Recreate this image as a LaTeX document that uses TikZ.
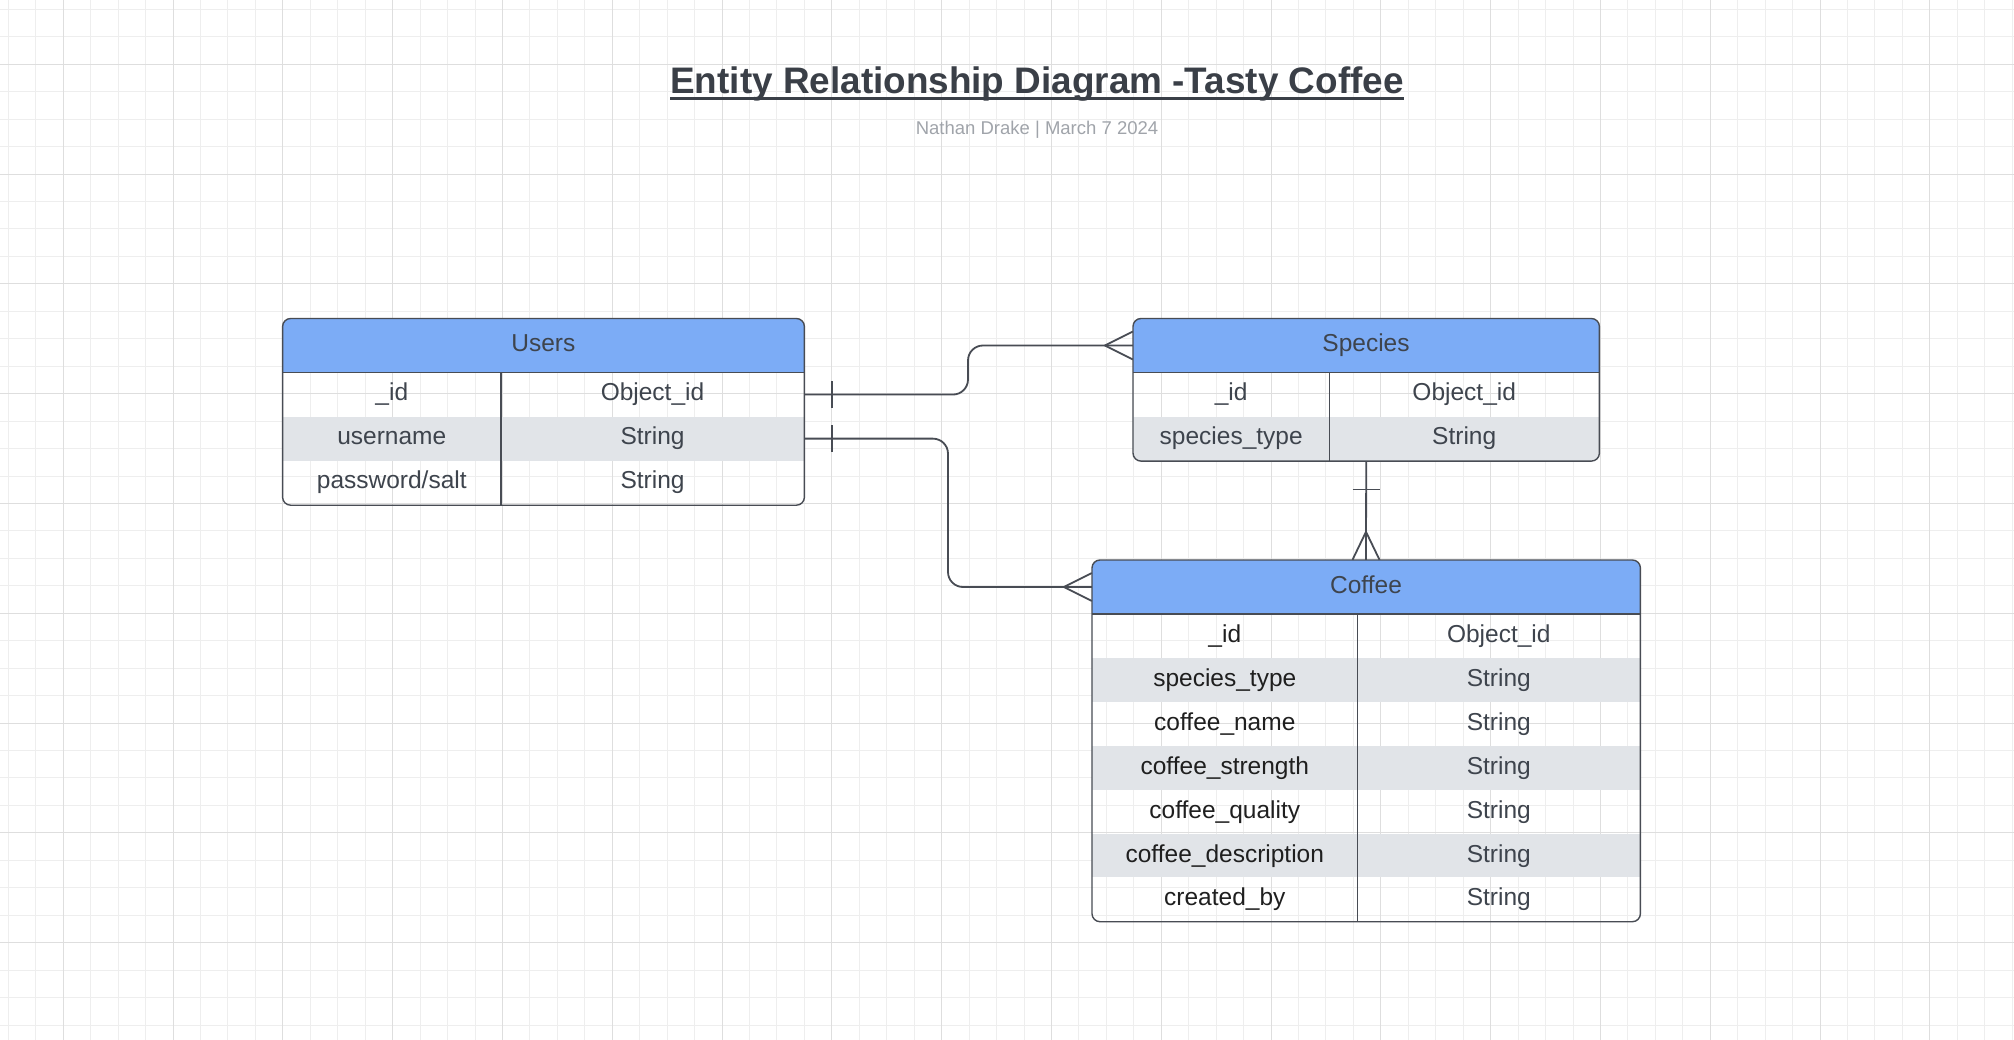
\documentclass[tikz,border=0pt]{standalone}
\usepackage{fontspec}
\setmainfont{Liberation Sans}
\definecolor{hdrblue}{RGB}{124,172,246}
\definecolor{rowgray}{RGB}{225,228,232}
\definecolor{bordercol}{RGB}{72,76,84}
\definecolor{txtcol}{RGB}{62,68,77}
\definecolor{titlecol}{RGB}{58,63,71}
\definecolor{subcol}{RGB}{160,164,170}
\definecolor{minorg}{RGB}{238,238,238}
\definecolor{majorg}{RGB}{222,222,222}
\begin{document}
\begin{tikzpicture}[x=1pt,y=-1pt,
  minorgrid/.style={draw=minorg,line width=1pt},
  majorgrid/.style={draw=majorg,line width=1pt},
  tblline/.style={draw=bordercol,line width=1.4pt},
  conn/.style={draw=bordercol,line width=1.8pt},
  cellbase/.style={inner sep=0pt,text height=18pt,text depth=6pt,font=\fontsize{24.5}{29}\selectfont,align=center},
  cell/.style={cellbase,text=txtcol,minimum height=44pt},
  darkcell/.style={cellbase,text=black!88,minimum height=44pt},
  hcell/.style={cellbase,text=txtcol,minimum height=54pt},
  boxnode/.style={inner sep=0pt,anchor=north west}
]
\useasboundingbox (0,0) rectangle (2014,1040);
\fill[white] (0,0) rectangle (2014,1040);
% grid (snapped to pixel centres)
\foreach \i in {0,...,73} {\pgfmathsetmacro\gx{floor(8.4+27.45*\i)+0.5}\draw[minorgrid] (\gx,0) -- ++(0,1040);}
\foreach \i in {0,...,37} {\pgfmathsetmacro\gy{floor(9.4+27.45*\i)+0.5}\draw[minorgrid] (0,\gy) -- ++(2014,0);}
\foreach \i in {0,...,17} {\pgfmathsetmacro\gx{floor(63.3+109.8*\i)+0.5}\draw[majorgrid] (\gx,0) -- ++(0,1040);}
\foreach \i in {0,...,8} {\pgfmathsetmacro\gy{floor(64.3+109.8*\i)+0.5}\draw[majorgrid] (0,\gy) -- ++(2014,0);}

% title
\node[inner sep=0pt,text=titlecol,font=\bfseries\fontsize{36.9}{42}\selectfont,anchor=base] (title) at (1037,93.5) {Entity Relationship Diagram -Tasty Coffee};
\draw[draw=titlecol,line width=2.6pt] ([yshift=-4.8pt]title.base west) -- ([yshift=-4.8pt]title.base east);
\node[inner sep=0pt,text=subcol,font=\fontsize{18.5}{22}\selectfont,anchor=base] (subtitle) at (1037,135) {Nathan Drake | March 7 2024};

% ---------------- Users
\node[boxnode,minimum width=521.4pt,minimum height=186.3pt] (users) at (282.6,318.5) {};
\begin{scope}
\clip[rounded corners=8pt] (users.north west) rectangle (users.south east);
\fill[hdrblue] (282.6,318.5) rectangle (804,372.5);
\fill[rowgray] (282.6,416.6) rectangle (804,460.7);
\end{scope}
\draw[tblline] (282.6,372.5) -- (804,372.5);
\draw[tblline] (501,372.5) -- (501,504.8);
\draw[tblline,rounded corners=8pt] (users.north west) rectangle (users.south east);
\node[hcell,minimum width=521.4pt] (usersH) at (543.3,345.5) {Users};
\node[cell,minimum width=218.4pt] (u1a) at (391.8,394.55) {\_id};
\node[cell,minimum width=303pt] (u1b) at (652.5,394.55) {Object\_id};
\node[cell,minimum width=218.4pt] (u2a) at (391.8,438.65) {username};
\node[cell,minimum width=303pt] (u2b) at (652.5,438.65) {String};
\node[cell,minimum width=218.4pt] (u3a) at (391.8,482.75) {password/salt};
\node[cell,minimum width=303pt] (u3b) at (652.5,482.75) {String};

% ---------------- Species
\node[boxnode,minimum width=466pt,minimum height=142.2pt] (species) at (1133,318.5) {};
\begin{scope}
\clip[rounded corners=8pt] (species.north west) rectangle (species.south east);
\fill[hdrblue] (1133,318.5) rectangle (1599,372.5);
\fill[rowgray] (1133,416.6) rectangle (1599,460.7);
\end{scope}
\draw[tblline] (1133,372.5) -- (1599,372.5);
\draw[tblline] (1329.4,372.5) -- (1329.4,460.7);
\draw[tblline,rounded corners=8pt] (species.north west) rectangle (species.south east);
\node[hcell,minimum width=466pt] (speciesH) at (1366,345.5) {Species};
\node[cell,minimum width=196.4pt] (s1a) at (1231.2,394.55) {\_id};
\node[cell,minimum width=269.6pt] (s1b) at (1464.2,394.55) {Object\_id};
\node[cell,minimum width=196.4pt] (s2a) at (1231.2,438.65) {species\_type};
\node[cell,minimum width=269.6pt] (s2b) at (1464.2,438.65) {String};

% ---------------- Coffee
\node[boxnode,minimum width=548pt,minimum height=361.3pt] (coffee) at (1092,560) {};
\begin{scope}
\clip[rounded corners=8pt] (coffee.north west) rectangle (coffee.south east);
\fill[hdrblue] (1092,560) rectangle (1640,614);
\foreach \k in {1,3,5} {\fill[rowgray] (1092,{614+43.9*\k}) rectangle (1640,{614+43.9*(\k+1)});}
\end{scope}
\draw[tblline] (1092,614) -- (1640,614);
\draw[tblline] (1357.6,614) -- (1357.6,921.3);
\draw[tblline,rounded corners=8pt] (coffee.north west) rectangle (coffee.south east);
\node[hcell,minimum width=548pt] (coffeeH) at (1366,587) {Coffee};
\foreach \k/\nm [count=\c] in {0/\_id,1/species\_type,2/coffee\_name,3/coffee\_strength,4/coffee\_quality,5/coffee\_description,6/created\_by} {
  \node[darkcell,minimum width=265.6pt] (c\c a) at (1224.8,{636.5+43.9*\k}) {\nm};
}
\foreach \k/\tp [count=\c] in {0/Object\_id,1/String,2/String,3/String,4/String,5/String,6/String} {
  \node[cell,minimum width=282.4pt] (c\c b) at (1498.8,{636.5+43.9*\k}) {\tp};
}

% ---------------- connectors
% Users._id -> Species (one to many)
\draw[conn,rounded corners=15pt] (u1b.east) -- (968,394.55) -- (968,345.5) -- (speciesH.west);
\draw[conn] ([xshift=28pt,yshift=13.5pt]u1b.east) -- ([xshift=28pt,yshift=-13.5pt]u1b.east);
\draw[conn] ([xshift=-28pt]speciesH.west) -- ([yshift=14pt]speciesH.west);
\draw[conn] ([xshift=-28pt]speciesH.west) -- ([yshift=-14pt]speciesH.west);
% Users.username -> Coffee (one to many)
\draw[conn,rounded corners=15pt] (u2b.east) -- (948,438.65) -- (948,587) -- (coffeeH.west);
\draw[conn] ([xshift=28pt,yshift=13.5pt]u2b.east) -- ([xshift=28pt,yshift=-13.5pt]u2b.east);
\draw[conn] ([xshift=-28pt]coffeeH.west) -- ([yshift=14pt]coffeeH.west);
\draw[conn] ([xshift=-28pt]coffeeH.west) -- ([yshift=-14pt]coffeeH.west);
% Species -> Coffee (one to many)
\draw[conn] (species.south) -- (coffeeH.north);
\draw[conn] ([xshift=-13.5pt,yshift=-28.3pt]species.south) -- ([xshift=13.5pt,yshift=-28.3pt]species.south);
\draw[conn] ([yshift=28pt]coffeeH.north) -- ([xshift=-13.5pt]coffeeH.north);
\draw[conn] ([yshift=28pt]coffeeH.north) -- ([xshift=13.5pt]coffeeH.north);
\end{tikzpicture}
\end{document}
